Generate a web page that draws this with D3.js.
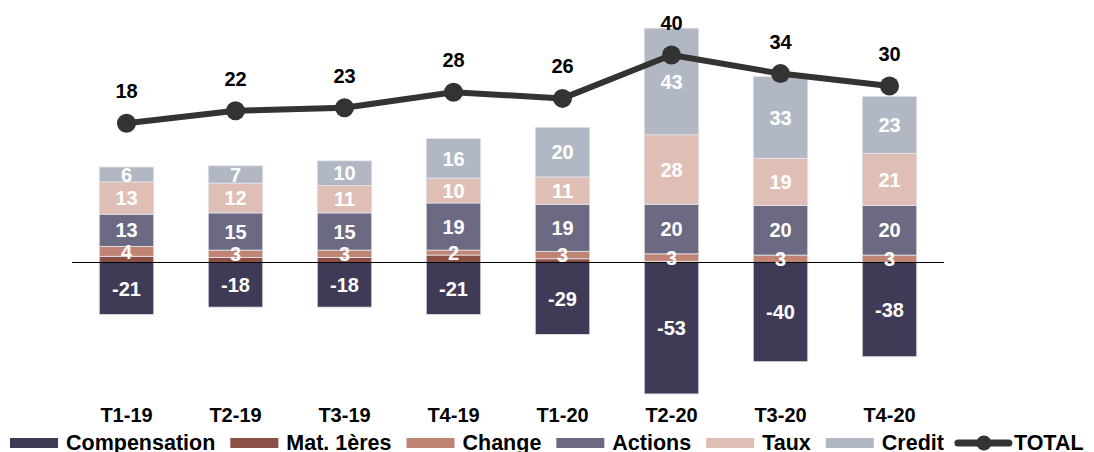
<!DOCTYPE html>
<html>
<head>
<meta charset="utf-8">
<script src="https://cdn.jsdelivr.net/npm/d3@7"></script>
<style>
  html, body { margin: 0; padding: 0; background: #fff; }
  svg { display: block; font-family: "Liberation Sans", Arial, sans-serif; font-weight: bold; }
</style>
</head>
<body>
<svg id="chart" width="1094" height="452"></svg>
<script>
// Quarterly contributions (stacked bars) and total (line)
const categories   = ["T1-19", "T2-19", "T3-19", "T4-19", "T1-20", "T2-20", "T3-20", "T4-20"];
const compensation = [-21, -18, -18, -21, -29, -53, -40, -38];
const matieres     = [2.5, 2, 2, 3, 1.5, 0.5, 0, 0];
const change       = [4, 3, 3, 2, 3, 3, 3, 3];
const actions      = [13, 15, 15, 19, 19, 20, 20, 20];
const taux         = [13, 12, 11, 10, 11, 28, 19, 21];
const credit       = [6, 7, 10, 16, 20, 43, 33, 23];
const total        = [18, 22, 23, 28, 26, 40, 34, 30];

const seriesDefs = [
  { key: "Compensation", values: compensation, color: "#3f3b56", label: true },
  { key: "Mat. 1ères",   values: matieres,     color: "#8b4f45", label: false },
  { key: "Change",       values: change,       color: "#c08474", label: true },
  { key: "Actions",      values: actions,      color: "#6b6a82", label: true },
  { key: "Taux",         values: taux,         color: "#dfbfb5", label: true },
  { key: "Credit",       values: credit,       color: "#b1b8c4", label: true }
];
const lineColor = "#333333";

const rows = categories.map((c, i) => {
  const r = { cat: c };
  seriesDefs.forEach(s => r[s.key] = s.values[i]);
  return r;
});

const svg = d3.select("#chart");

const x = d3.scaleBand().domain(categories).range([72, 944])
  .paddingInner(0.5).paddingOuter(0.25);
const y = d3.scaleLinear().domain([-55, 95]).range([262.5 + 55 * 2.48, 262.5 - 95 * 2.48]);
const yTotal = d3.scaleLinear().domain([0, 40]).range([179, 179 - 40 * 3.1]);

const stack = d3.stack()
  .keys(seriesDefs.map(s => s.key))
  .offset(d3.stackOffsetDiverging);
const stacked = stack(rows);

// bars
const layers = svg.append("g").selectAll("g")
  .data(stacked)
  .join("g")
  .attr("fill", (d, i) => seriesDefs[i].color);

layers.selectAll("rect")
  .data(d => d)
  .join("rect")
  .attr("x", d => x(d.data.cat))
  .attr("width", x.bandwidth())
  .attr("y", d => y(Math.max(d[0], d[1])))
  .attr("height", d => Math.abs(y(d[0]) - y(d[1])))
  .attr("stroke", "#e4e5ea")
  .attr("stroke-width", 0.8);

// zero line
svg.append("line")
  .attr("x1", x.range()[0]).attr("x2", x.range()[1])
  .attr("y1", y(0)).attr("y2", y(0))
  .attr("stroke", "#000").attr("stroke-width", 1.2);

// segment labels
stacked.forEach((layer, i) => {
  const def = seriesDefs[i];
  if (!def.label) return;
  svg.append("g").selectAll("text")
    .data(layer)
    .join("text")
    .attr("x", d => x(d.data.cat) + x.bandwidth() / 2)
    .attr("y", d => (y(d[0]) + y(d[1])) / 2)
    .attr("dy", "0.36em")
    .attr("text-anchor", "middle")
    .attr("font-size", 20)
    .attr("fill", "#fff")
    .text(d => d.data[def.key]);
});

// total line
const line = d3.line()
  .x((d, i) => x(categories[i]) + x.bandwidth() / 2)
  .y(d => yTotal(d));

svg.append("path")
  .datum(total)
  .attr("d", line)
  .attr("fill", "none")
  .attr("stroke", lineColor)
  .attr("stroke-width", 6)
  .attr("stroke-linejoin", "round");

svg.append("g").selectAll("circle")
  .data(total)
  .join("circle")
  .attr("cx", (d, i) => x(categories[i]) + x.bandwidth() / 2)
  .attr("cy", d => yTotal(d))
  .attr("r", 9.5)
  .attr("fill", lineColor);

svg.append("g").selectAll("text")
  .data(total)
  .join("text")
  .attr("x", (d, i) => x(categories[i]) + x.bandwidth() / 2)
  .attr("y", d => yTotal(d) - 25)
  .attr("text-anchor", "middle")
  .attr("font-size", 20)
  .attr("fill", "#000")
  .text(d => d);

// category axis labels
svg.append("g").selectAll("text")
  .data(categories)
  .join("text")
  .attr("x", d => x(d) + x.bandwidth() / 2)
  .attr("y", 422)
  .attr("text-anchor", "middle")
  .attr("font-size", 20)
  .attr("fill", "#000")
  .text(d => d);

// legend
const legend = svg.append("g");
let cx = 10;
const legendItems = seriesDefs.map(s => ({ key: s.key, color: s.color, type: "rect" }))
  .concat([{ key: "TOTAL", color: lineColor, type: "line" }]);
legendItems.forEach(item => {
  if (item.type === "rect") {
    legend.append("rect")
      .attr("x", cx).attr("y", 438)
      .attr("width", 48).attr("height", 10)
      .attr("fill", item.color);
    cx += 56;
  } else {
    legend.append("line")
      .attr("x1", cx - 1).attr("x2", cx + 50)
      .attr("y1", 443).attr("y2", 443)
      .attr("stroke", item.color).attr("stroke-width", 7)
      .attr("stroke-linecap", "round");
    legend.append("circle")
      .attr("cx", cx + 25).attr("cy", 443).attr("r", 7.5)
      .attr("fill", item.color);
    cx += 55;
  }
  const t = legend.append("text")
    .attr("x", cx).attr("y", 449.5)
    .attr("font-size", 21.5)
    .attr("fill", "#000")
    .text(item.key);
  cx += t.node().getComputedTextLength() + 15;
});
</script>
</body>
</html>
